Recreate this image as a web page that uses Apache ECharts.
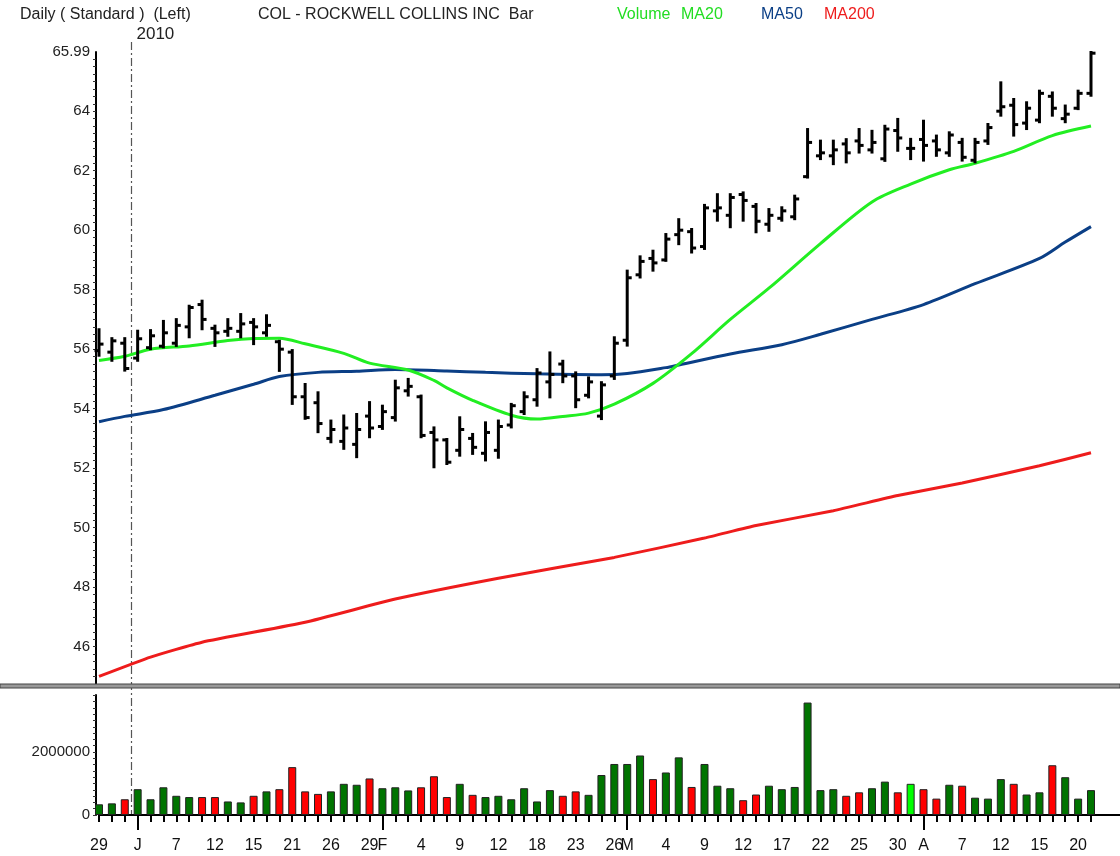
<!DOCTYPE html>
<html>
<head>
<meta charset="utf-8">
<script src="https://cdn.jsdelivr.net/npm/echarts@6/dist/echarts.min.js"></script>
<style>
  html, body { margin: 0; padding: 0; background: #fff; }
  #chart { width: 1120px; height: 856px; }
</style>
</head>
<body>
<div id="chart"></div>
<script>
// trading days shown
var dates = [
  '2009-12-29','2009-12-30','2009-12-31',
  '2010-01-04','2010-01-05','2010-01-06','2010-01-07','2010-01-08',
  '2010-01-11','2010-01-12','2010-01-13','2010-01-14','2010-01-15',
  '2010-01-19','2010-01-20','2010-01-21','2010-01-22',
  '2010-01-25','2010-01-26','2010-01-27','2010-01-28','2010-01-29',
  '2010-02-01','2010-02-02','2010-02-03','2010-02-04','2010-02-05',
  '2010-02-08','2010-02-09','2010-02-10','2010-02-11','2010-02-12',
  '2010-02-16','2010-02-17','2010-02-18','2010-02-19',
  '2010-02-22','2010-02-23','2010-02-24','2010-02-25','2010-02-26',
  '2010-03-01','2010-03-02','2010-03-03','2010-03-04','2010-03-05',
  '2010-03-08','2010-03-09','2010-03-10','2010-03-11','2010-03-12',
  '2010-03-15','2010-03-16','2010-03-17','2010-03-18','2010-03-19',
  '2010-03-22','2010-03-23','2010-03-24','2010-03-25','2010-03-26',
  '2010-03-29','2010-03-30','2010-03-31',
  '2010-04-01','2010-04-05','2010-04-06','2010-04-07','2010-04-08','2010-04-09',
  '2010-04-12','2010-04-13','2010-04-14','2010-04-15','2010-04-16',
  '2010-04-19','2010-04-20','2010-04-21'
];

var openP = [55.95,55.9,56.2,55.7,56.05,56.1,56.2,56.75,57.5,56.7,
  56.6,56.6,56.9,56.55,56.25,55.9,54.4,54.2,53.0,52.9,
  52.8,53.75,53.4,53.7,54.6,54.4,53.2,52.95,52.6,53.0,
  52.5,52.6,53.45,53.9,54.3,54.9,55.5,55.1,54.45,53.75,
  55.1,56.3,58.5,59.05,59.0,59.85,59.95,59.45,60.65,60.5,
  61.2,60.8,60.2,60.4,60.45,61.8,62.5,62.5,62.9,63.0,
  62.7,62.4,63.35,62.75,63.05,63.0,62.6,62.95,62.35,63.0,
  64.0,64.2,63.6,63.7,64.5,63.75,64.1,64.6];
var highP = [56.67,56.37,56.37,56.62,56.64,56.95,57.01,57.46,57.63,56.79,
  57.01,57.18,57.01,57.14,56.28,55.97,54.83,54.55,53.6,53.77,
  53.82,54.22,54.1,54.94,55.0,54.44,53.37,52.98,53.71,53.15,
  53.54,53.6,54.16,54.55,55.33,55.89,55.61,55.22,55.05,54.89,
  56.4,58.64,59.12,59.31,59.87,60.37,60.04,60.85,61.21,61.21,
  61.27,60.88,60.71,60.77,61.16,63.4,63.01,63.01,63.06,63.4,
  63.34,63.51,63.74,63.07,63.68,63.18,63.29,63.07,63.07,63.57,
  64.97,64.41,64.3,64.69,64.63,64.19,64.69,65.99];
var lowP = [55.78,55.61,55.28,55.61,56.0,56.06,56.11,56.4,56.67,56.11,
  56.45,56.4,56.17,56.45,55.27,54.16,53.66,53.21,52.87,52.65,
  52.37,53.04,53.32,53.6,54.44,53.04,52.03,52.14,52.42,52.48,
  52.26,52.35,53.37,53.82,54.1,54.38,54.89,54.05,54.38,53.65,
  55.0,56.12,58.41,58.64,58.97,59.53,59.25,59.37,60.32,60.1,
  60.32,59.93,59.98,60.32,60.37,61.77,62.39,62.22,62.28,62.61,
  62.61,62.33,62.67,62.39,62.34,62.5,62.5,62.34,62.28,62.9,
  63.85,63.18,63.4,63.63,63.85,63.63,64.07,64.52];
var closeP = [56.17,56.28,55.35,56.35,56.45,56.55,56.8,57.4,57.0,56.55,
  56.7,56.85,56.75,56.8,56.0,54.4,53.7,53.5,53.3,53.35,
  53.3,53.35,53.9,54.7,54.75,53.1,52.95,52.2,53.3,52.7,
  53.2,53.4,54.1,54.4,55.2,55.15,55.1,54.3,54.9,54.8,
  56.2,58.4,58.95,58.9,59.7,60.0,59.4,60.75,60.75,61.1,
  61.0,60.3,60.5,60.65,61.05,62.95,62.6,62.7,62.6,62.85,
  62.95,63.4,63.1,62.75,62.85,62.7,63.2,62.45,62.95,63.45,
  64.15,63.55,64.1,64.6,64.1,63.9,64.6,65.95];

var volume = [340000,370000,500000,820000,500000,880000,610000,570000,570000,570000,
  430000,400000,610000,750000,820000,1520000,750000,670000,750000,990000,
  960000,1160000,850000,880000,780000,880000,1230000,570000,990000,640000,
  570000,610000,500000,850000,430000,790000,610000,750000,640000,1270000,
  1620000,1620000,1890000,1140000,1350000,1830000,890000,1620000,930000,850000,
  470000,650000,930000,820000,890000,3570000,790000,820000,610000,720000,
  850000,1060000,720000,990000,820000,520000,960000,930000,550000,520000,
  1140000,990000,650000,720000,1580000,1200000,520000,790000];

// moving averages: [day index, value]
var ma20Pts = [[0,55.62],[2,55.76],[4,56.0],[7,56.11],[10,56.29],[12,56.36],[14,56.37],
  [16,56.18],[19,55.86],[21,55.53],[24,55.3],[26,54.95],[27,54.7],[29,54.28],[32,53.78],
  [34,53.65],[36,53.74],[38,53.85],[40,54.15],[43,54.85],[46,55.85],[49,57.0],[52,58.05],
  [56,59.55],[60,60.95],[63,61.55],[66,62.03],[68,62.25],[71,62.65],[74,63.18],[77,63.5]];
var ma50Pts = [[0,53.56],[2,53.74],[5,53.97],[9,54.45],[12,54.82],[14,55.08],[17,55.22],
  [20,55.26],[23,55.32],[27,55.27],[30,55.22],[34,55.17],[39,55.14],[41,55.18],[44,55.38],
  [45,55.47],[49,55.84],[53,56.15],[56,56.5],[60,57.0],[64,57.5],[68,58.2],[73,59.05],
  [75,59.6],[77,60.12]];
var ma200Pts = [[0,45.0],[4,45.65],[8,46.15],[16,46.82],[23,47.6],[31,48.3],[40,49.0],
  [47,49.65],[51,50.07],[57,50.57],[62,51.08],[67,51.5],[73,52.08],[77,52.52]];

var priceTicks = [46,48,50,52,54,56,58,60,62,64,65.99];
var volTicks = [0,2000000];
var monthLetters = {'01':'J','02':'F','03':'M','04':'A'};

var FONT = '"Liberation Sans", Arial, sans-serif';

function monthStart(i) {
    return i > 0 && dates[i].substr(5, 2) !== dates[i - 1].substr(5, 2);
}
function labelShown(i) {
    if (i === 0 || monthStart(i)) return true;
    var s = i;
    while (s > 0 && !monthStart(s)) s--;
    if (s === 0) return false;
    return (i - s) % 3 === 0;
}
function toPts(pts) {
    return pts.map(function (p) { return [dates[p[0]], p[1]]; });
}

var ohlc = dates.map(function (d, i) { return [i, openP[i], highP[i], lowP[i], closeP[i]]; });

var minorPrice = [];
for (var v = 44.75; v < 66; v += 0.25) minorPrice.push(Math.round(v * 100) / 100);
var minorVol = [];
for (var k = 0; k <= 3800000; k += 200000) minorVol.push(k);

var chart = echarts.init(document.getElementById('chart'), null, { renderer: 'canvas' });

chart.setOption({
    animation: false,
    backgroundColor: '#ffffff',
    textStyle: { fontFamily: FONT },
    grid: [
        { left: 99, right: 29, top: 52, height: 634.5 },
        { left: 99, right: 29, top: 695, height: 120 }
    ],
    xAxis: [
        { type: 'category', gridIndex: 0, data: dates, boundaryGap: false, show: false },
        {
            type: 'category', gridIndex: 1, data: dates, boundaryGap: false, position: 'bottom',
            axisLine: { lineStyle: { color: '#000', width: 2 } },
            axisTick: { interval: 0, length: 7, lineStyle: { color: '#000', width: 2 } },
            axisLabel: {
                interval: function (i) { return labelShown(i); },
                formatter: function (val, i) {
                    if (monthStart(i)) return monthLetters[val.substr(5, 2)];
                    return String(parseInt(val.substr(8, 2), 10));
                },
                margin: 23, fontSize: 16, color: '#111', fontFamily: FONT
            }
        },
        {
            type: 'category', gridIndex: 1, data: dates, boundaryGap: false, position: 'bottom',
            axisLine: { show: false },
            axisTick: { interval: function (i) { return monthStart(i); }, length: 15,
                        lineStyle: { color: '#000', width: 2 } },
            axisLabel: { show: false }
        }
    ],
    yAxis: [
        {
            type: 'value', gridIndex: 0, min: 44.66, max: 65.99, offset: 3,
            splitLine: { show: false },
            axisLine: { show: true, lineStyle: { color: '#000', width: 2 } },
            axisTick: { show: true, customValues: minorPrice, length: 3, lineStyle: { color: '#333' } },
            axisLabel: {
                customValues: priceTicks, margin: 6, fontSize: 15, color: '#222', fontFamily: FONT,
                formatter: function (v) { return String(v); }
            }
        },
        {
            type: 'value', gridIndex: 1, min: 0, max: 3810000, offset: 3,
            splitLine: { show: false },
            axisLine: { show: true, lineStyle: { color: '#000', width: 2 } },
            axisTick: { show: true, customValues: minorVol, length: 3, lineStyle: { color: '#333' } },
            axisLabel: {
                customValues: volTicks, margin: 6, fontSize: 15, color: '#222', fontFamily: FONT,
                formatter: function (v) { return String(v); }
            }
        }
    ],
    series: [
        {
            name: 'MA200', type: 'line', xAxisIndex: 0, yAxisIndex: 0,
            data: toPts(ma200Pts), smooth: 0.15, showSymbol: false, z: 2,
            lineStyle: { color: '#ee1c1c', width: 3 }
        },
        {
            name: 'MA50', type: 'line', xAxisIndex: 0, yAxisIndex: 0,
            data: toPts(ma50Pts), smooth: 0.3, showSymbol: false, z: 2,
            lineStyle: { color: '#0b3f86', width: 3 }
        },
        {
            name: 'MA20', type: 'line', xAxisIndex: 0, yAxisIndex: 0,
            data: toPts(ma20Pts), smooth: 0.3, showSymbol: false, z: 2,
            lineStyle: { color: '#22ee22', width: 3 }
        },
        {
            name: 'Bar', type: 'custom', xAxisIndex: 0, yAxisIndex: 0, z: 5, clip: false,
            data: ohlc,
            encode: { x: 0, y: [1, 2, 3, 4] },
            renderItem: function (params, api) {
                var idx = api.value(0);
                var hi = api.coord([idx, api.value(2)]);
                var lo = api.coord([idx, api.value(3)]);
                var op = api.coord([idx, api.value(1)]);
                var cl = api.coord([idx, api.value(4)]);
                var x = hi[0];
                var st = { stroke: '#000', lineWidth: 3 };
                return {
                    type: 'group',
                    children: [
                        { type: 'line', shape: { x1: x, y1: hi[1] - 1, x2: x, y2: lo[1] + 1 }, style: st },
                        { type: 'line', shape: { x1: x - 4.5, y1: op[1], x2: x, y2: op[1] }, style: st },
                        { type: 'line', shape: { x1: x, y1: cl[1], x2: x + 4.5, y2: cl[1] }, style: st }
                    ]
                };
            }
        },
        {
            name: 'Volume', type: 'bar', xAxisIndex: 1, yAxisIndex: 1, barWidth: 8, clip: false,
            data: volume,
            itemStyle: {
                borderColor: '#222', borderWidth: 1,
                color: function (p) {
                    var i = p.dataIndex;
                    if (closeP[i] > openP[i]) return '#007400';
                    if (closeP[i] < openP[i]) return '#ff0000';
                    return '#00ff00';
                }
            }
        }
    ]
});

// year divider between the last 2009 day and the first 2010 day
var xa = chart.convertToPixel({ xAxisIndex: 1 }, dates[2]);
var xb = chart.convertToPixel({ xAxisIndex: 1 }, dates[3]);
var xYear = Math.round((xa + xb) / 2) + 0.5;
var volBase = chart.convertToPixel({ yAxisIndex: 1 }, 0);

function txt(x, y, s, color, size) {
    return { type: 'text', left: x, top: y, silent: true,
             style: { text: s, fill: color, fontSize: size || 16, fontFamily: FONT } };
}

chart.setOption({
    graphic: [
        txt(20, 7, 'Daily ( Standard )  (Left)', '#222'),
        txt(258, 7, 'COL - ROCKWELL COLLINS INC  Bar', '#222'),
        txt(617, 7, 'Volume', '#22dd22'),
        txt(681, 7, 'MA20', '#22dd22'),
        txt(761, 7, 'MA50', '#0b3f86'),
        txt(824, 7, 'MA200', '#ee1c1c'),
        txt(xYear + 5, 26, '2010', '#222', 17),
        {
            type: 'rect', silent: true, z: 10,
            shape: { x: 0, y: 684, width: 1120, height: 4 },
            style: { fill: '#999', stroke: '#444', lineWidth: 1 }
        },
        {
            type: 'line', silent: true, z: 1,
            shape: { x1: 1090, y1: volBase, x2: 1120, y2: volBase },
            style: { stroke: '#000', lineWidth: 2 }
        },
        {
            type: 'line', silent: true, z: 0,
            shape: { x1: xYear, y1: 42, x2: xYear, y2: volBase },
            style: { stroke: '#555', lineWidth: 1.2, lineDash: [8, 3, 2, 3] }
        }
    ]
});
</script>
</body>
</html>
